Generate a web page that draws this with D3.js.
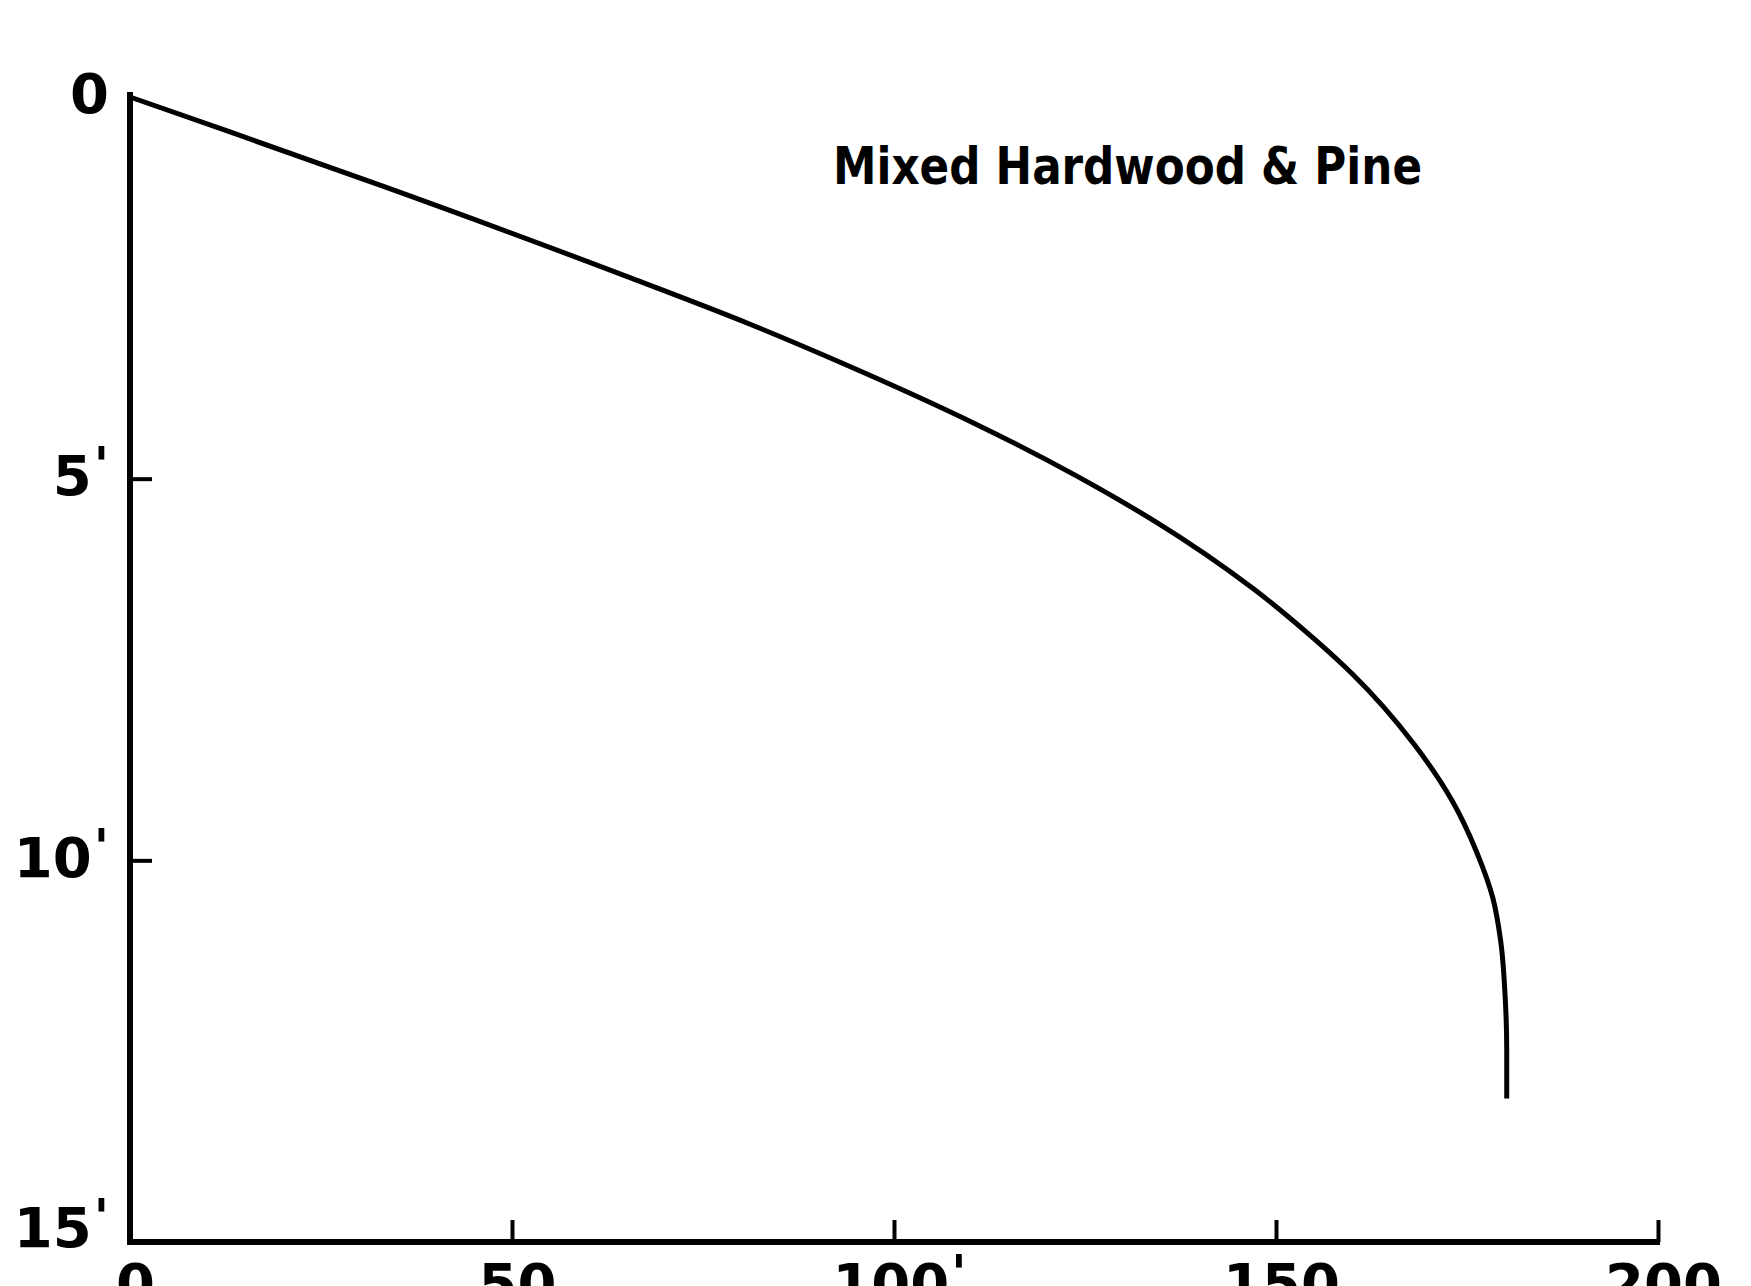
<!DOCTYPE html>
<html><head><meta charset="utf-8">
<script src="https://cdn.jsdelivr.net/npm/d3@7"></script>
<style>html,body{margin:0;padding:0;background:#fff}</style>
</head><body>
<svg id="c" width="1751" height="1286" style="background:#fff"></svg>
<script>
// Data (distance in ft, depth in ft)
const distance = [0, 13, 33, 65, 81, 94, 110, 124, 134, 147, 155, 160, 168, 173, 176.3, 178.4, 179.4, 180.0, 180.2, 180.2];
const depth    = [0, 0.455, 1.165, 2.35, 2.97, 3.52, 4.25, 4.97, 5.55, 6.44, 7.10, 7.56, 8.47, 9.21, 9.90, 10.50, 11.05, 11.80, 12.47, 13.12];
const xTicks = [0, 50, 100, 150, 200];
const xTickLabels = ["0", "50", "100'", "150", "200"];
const yTicks = [0, 5, 10, 15];
const yTickLabels = ["0", "5'", "10'", "15'"];
const chartTitle = "Mixed Hardwood & Pine";

const svg = d3.select("#c");
const FONT = "DejaVu Sans, sans-serif";

const x = d3.scaleLinear().domain([0, 200]).range([130, 1658]);
const y = d3.scaleLinear().domain([0, 15]).range([97, 1242]);

function primeLabel(sel, labels, ticks) {
  sel.each(function(d) {
    const t = d3.select(this);
    const lab = labels[ticks.indexOf(d)];
    const digits = lab.replace(/'/g, "");
    const hasPrime = lab.indexOf("'") >= 0;
    t.text(null);
    t.append("tspan").text(digits);
    if (hasPrime) {
      t.append("tspan").attr("dx", 2).attr("dy", -13).attr("font-size", 50).text("'");
    }
  });
}

// X axis
const gx = svg.append("g").attr("transform", `translate(0,${y(15)})`)
  .call(d3.axisBottom(x).tickValues(xTicks).tickSizeInner(-22).tickSizeOuter(0).tickPadding(21));
gx.select(".domain").attr("stroke", "#000").attr("stroke-width", 6).attr("d", `M${x(0)-3},0H${x(200)+2}`);
gx.selectAll(".tick line").attr("stroke", "#000").attr("stroke-width", 4);
gx.selectAll(".tick").filter(d => d === 0).select("line").remove();
gx.selectAll(".tick text").attr("font-family", FONT).attr("font-weight", "bold")
  .attr("font-size", 56).attr("fill", "#000").attr("dx", 5)
  .call(primeLabel, xTickLabels, xTicks);

// Y axis
const gy = svg.append("g").attr("transform", `translate(${x(0)},0)`)
  .call(d3.axisLeft(y).tickValues(yTicks).tickSizeInner(-22).tickSizeOuter(0).tickPadding(21));
gy.select(".domain").attr("stroke", "#000").attr("stroke-width", 6).attr("d", `M0,${y(0)-5}V${y(15)+3}`);
gy.selectAll(".tick line").attr("stroke", "#000").attr("stroke-width", 4);
gy.selectAll(".tick").filter(d => d === 0 || d === 15).select("line").remove();
gy.selectAll(".tick text").attr("font-family", FONT).attr("font-weight", "bold")
  .attr("font-size", 56).attr("fill", "#000")
  .attr("dy", d => d === 15 ? "0.08em" : "0.28em")
  .call(primeLabel, yTickLabels, yTicks);

// Curve
const pts = distance.map((d, i) => [d, depth[i]]);
const line = d3.line().x(d => x(d[0])).y(d => y(d[1])).curve(d3.curveMonotoneY);
svg.append("path").datum(pts).attr("d", line)
  .attr("fill", "none").attr("stroke", "#000").attr("stroke-width", 5)
  .attr("stroke-linejoin", "round");

// Title
svg.append("text").attr("x", 833).attr("y", 184)
  .attr("font-family", FONT).attr("font-weight", "bold").attr("font-size", 52)
  .attr("textLength", 589).attr("lengthAdjust", "spacingAndGlyphs")
  .attr("fill", "#000").text(chartTitle);
</script>
</body></html>
